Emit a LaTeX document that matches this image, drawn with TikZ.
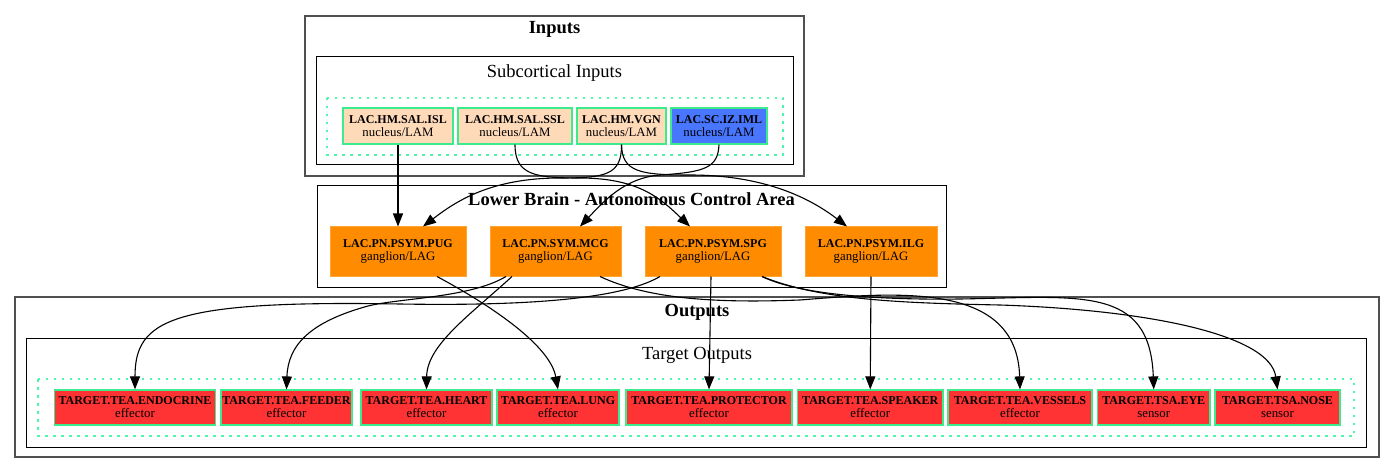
\documentclass[tikz,border=0pt]{standalone}
\usepackage{fontspec}
\setmainfont{Liberation Serif}
\usetikzlibrary{arrows.meta}
\definecolor{peach}{HTML}{FFDAB9}
\definecolor{nborder}{HTML}{3CEB8C}
\definecolor{dotmint}{HTML}{4CF5A8}
\definecolor{royal}{HTML}{4876FF}
\definecolor{gorange}{HTML}{FF8C00}
\definecolor{gedge}{HTML}{FFA533}
\definecolor{gred}{HTML}{FF3333}
\definecolor{framegray}{HTML}{505050}
\newcommand{\nlab}[2]{{\fontsize{12}{13}\selectfont\bfseries #1}\\{\fontsize{12.8}{13}\selectfont #2}}
\tikzset{
  nd/.style={draw=nborder, line width=1.2pt, inner sep=0pt, align=center, font=\fontsize{12.8}{13}\selectfont},
  innode/.style={nd, fill=peach, minimum height=36pt},
  bluenode/.style={nd, fill=royal, minimum height=36pt},
  gang/.style={draw=gedge, line width=1pt, fill=gorange, minimum height=49pt, inner sep=0pt, align=center, font=\fontsize{12.8}{13}\selectfont},
  outnode/.style={nd, fill=gred, minimum height=35pt},
  edge/.style={line width=1.1pt, -{Triangle[length=13pt,width=10pt]}},
  outerbox/.style={draw=framegray, line width=1.3pt},
  innerbox/.style={draw=black, line width=1pt},
  dotbox/.style={draw=dotmint, line width=1.4pt, dash pattern=on 2.5pt off 5.5pt},
  ttl/.style={font=\fontsize{18.5}{20}\selectfont\bfseries, anchor=base, inner sep=0pt},
  sttl/.style={font=\fontsize{18.5}{20}\selectfont, anchor=base, inner sep=0pt},
}
\begin{document}
\begin{tikzpicture}[x=1pt, y=-1pt]
\useasboundingbox[fill=white] (0,0) rectangle (1392,473);
% clusters
\draw[outerbox] (305,16) rectangle (804,176);
\draw[innerbox] (316,57) rectangle (793,165);
\draw[dotbox] (327,98) rectangle (783,155);
\draw[innerbox] (317,186) rectangle (946,287);
\draw[outerbox] (15,297) rectangle (1379,457);
\draw[innerbox] (26.5,338) rectangle (1366,447);
\draw[dotbox] (38,379) rectangle (1354,436);
% titles
\node[ttl] (tin) at (554.5,34) {Inputs};
\node[sttl] (tsub) at (554.5,78) {Subcortical Inputs};
\node[ttl] (tlow) at (631.5,206) {Lower Brain - Autonomous Control Area};
\node[ttl] (tout) at (697,316) {Outputs};
\node[sttl] (ttar) at (697,359) {Target Outputs};
% input nodes
\node[innode, minimum width=110pt] (isl) at (398,126) {\nlab{LAC.HM.SAL.ISL}{nucleus/LAM}};
\node[innode, minimum width=114pt] (ssl) at (515,126) {\nlab{LAC.HM.SAL.SSL}{nucleus/LAM}};
\node[innode, minimum width=89pt] (vgn) at (621.5,126) {\nlab{LAC.HM.VGN}{nucleus/LAM}};
\node[bluenode, minimum width=96pt] (iml) at (719,126) {\nlab{LAC.SC.IZ.IML}{nucleus/LAM}};
% ganglia
\node[gang, minimum width=136pt] (pug) at (398,251.5) {\nlab{LAC.PN.PSYM.PUG}{ganglion/LAG}};
\node[gang, minimum width=131pt] (mcg) at (555.5,251.5) {\nlab{LAC.PN.SYM.MCG}{ganglion/LAG}};
\node[gang, minimum width=136pt] (spg) at (713,251.5) {\nlab{LAC.PN.PSYM.SPG}{ganglion/LAG}};
\node[gang, minimum width=132pt] (ilg) at (871,251.5) {\nlab{LAC.PN.PSYM.ILG}{ganglion/LAG}};
% outputs
\node[outnode, minimum width=161pt] (endo) at (135,407.5) {\nlab{TARGET.TEA.ENDOCRINE}{effector}};
\node[outnode, minimum width=131pt] (feed) at (286.5,407.5) {\nlab{TARGET.TEA.FEEDER}{effector}};
\node[outnode, minimum width=131pt] (heart) at (426.5,407.5) {\nlab{TARGET.TEA.HEART}{effector}};
\node[outnode, minimum width=122pt] (lung) at (558,407.5) {\nlab{TARGET.TEA.LUNG}{effector}};
\node[outnode, minimum width=166pt] (prot) at (709,407.5) {\nlab{TARGET.TEA.PROTECTOR}{effector}};
\node[outnode, minimum width=145.5pt] (speak) at (870.25,407.5) {\nlab{TARGET.TEA.SPEAKER}{effector}};
\node[outnode, minimum width=144pt] (vess) at (1020,407.5) {\nlab{TARGET.TEA.VESSELS}{effector}};
\node[outnode, minimum width=112.5pt] (eye) at (1153.75,407.5) {\nlab{TARGET.TSA.EYE}{sensor}};
\node[outnode, minimum width=125pt] (nose) at (1277.5,407.5) {\nlab{TARGET.TSA.NOSE}{sensor}};
% edges inputs -> ganglia
\draw[edge] (isl.south) -- (pug.north);
\draw[edge] (ssl.south) .. controls (515,175) and (535,178) .. (580,178) .. controls (640,178) and (662,200) .. ([xshift=-23pt]spg.north);
\draw[edge] (vgn.south) .. controls (622,175) and (605,178) .. (560,178) .. controls (490,178) and (455,202) .. ([xshift=25pt]pug.north);
\draw[edge] (vgn.south) .. controls (622,172) and (640,175) .. (690,175) .. controls (770,175) and (815,202) .. ([xshift=-24pt]ilg.north);
\draw[edge] (iml.south) .. controls (718,168) and (705,172) .. (660,175) .. controls (625,178) and (605,200) .. ([xshift=24.5pt]mcg.north);
% edges ganglia -> outputs
\draw[edge] ([xshift=39pt]pug.south) .. controls (490,305) and (550,345) .. (lung.north);
\draw[edge] ([xshift=-49.5pt]mcg.south) .. controls (470,298) and (400,298) .. (368,306) .. controls (310,322) and (288,345) .. (feed.north);
\draw[edge] ([xshift=-43.5pt]mcg.south) .. controls (470,315) and (427,345) .. (heart.north);
\draw[edge] ([xshift=44.5pt]mcg.south) .. controls (650,300) and (720,303) .. (800,300) .. controls (900,292) and (1017,282) .. (vess.north);
\draw[edge] ([xshift=-53pt]spg.south) .. controls (620,300) and (520,306) .. (400,304) .. controls (170,300) and (135,320) .. (endo.north);
\draw[edge] ([xshift=-2pt]spg.south) -- (prot.north);
\draw[edge] ([xshift=49pt]spg.south) .. controls (800,295) and (880,300) .. (960,299) .. controls (1080,297) and (1150,285) .. (eye.north);
\draw[edge] ([xshift=49pt]spg.south) .. controls (820,300) and (900,303) .. (1000,305) .. controls (1150,310) and (1270,335) .. (nose.north);
\draw[edge] (ilg.south) -- (speak.north);
\end{tikzpicture}
\end{document}
